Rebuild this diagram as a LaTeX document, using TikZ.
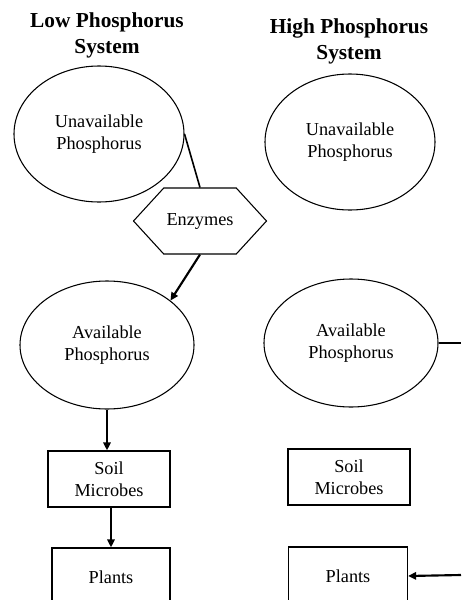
\documentclass[tikz,border=0pt]{standalone}
\usepackage{fontspec}
\setmainfont{Liberation Serif}
\usetikzlibrary{positioning}
\usetikzlibrary{shapes.geometric,shapes.symbols,arrows.meta}

\begin{document}
\begin{tikzpicture}[x=0.75pt,y=-0.75pt,
  every node/.style={font=\fontsize{13.7}{16.5}\selectfont,align=center,inner sep=0pt},
  title/.style={font=\fontsize{16}{19.5}\selectfont\bfseries},
  pool/.style={draw,ellipse,line width=0.8pt},
  enzyme/.style={draw,signal,signal from=nowhere,signal to=east and west,
    signal pointer angle=95,line width=0.8pt,minimum width=99.75pt,minimum height=49.5pt},
  box/.style={draw,rectangle,line width=0.9pt,minimum height=42pt},
  flow/.style={-{Triangle[length=6pt,width=5.5pt]},line width=1.6pt}]
\clip (0,0) rectangle (461,600);
\useasboundingbox (0,0) rectangle (461,600);
% low phosphorus
\node[title] (t1) at (107,35) {Low Phosphorus\\System};
\node[pool,minimum width=127.5pt,minimum height=102pt] (ua1) at (99,134) {Unavailable\\Phosphorus};
\node[enzyme] (enz) at (200,221) {Enzymes};
\node[pool,minimum width=130.5pt,minimum height=96pt] (av1) at (107,345) {Available\\Phosphorus};
\node[box,minimum width=91.5pt] (sm1) at (109,479) {Soil\\Microbes};
\node[box,minimum width=88.5pt,minimum height=43.5pt] (pl1) at (111,577) {Plants};
\draw[line width=1.2pt] (ua1.east) -- (enz.north);
\draw[flow] (enz.south) -- (av1.35);
\draw[flow] (av1.south) -- (av1.south |- sm1.north);
\draw[flow] (pl1.north |- sm1.south) -- (pl1.north);
% high phosphorus
\node[title] (t2) at (349,41) {High Phosphorus\\System};
\node[pool,minimum width=127.5pt,minimum height=102pt] (ua2) at (350,142) {Unavailable\\Phosphorus};
\node[pool,minimum width=130.5pt,minimum height=96pt] (av2) at (351,343) {Available\\Phosphorus};
\node[box,minimum width=91.5pt] (sm2) at (349,477) {Soil\\Microbes};
\node[box,minimum width=89.25pt,minimum height=43.5pt] (pl2) at (348,576) {Plants};
\coordinate (out) at (461,343);
\coordinate (in) at (461,575);
\draw[line width=1.2pt] (av2.east) -- (out);
\draw[flow] (in) -- (pl2.east);
\end{tikzpicture}
\end{document}
